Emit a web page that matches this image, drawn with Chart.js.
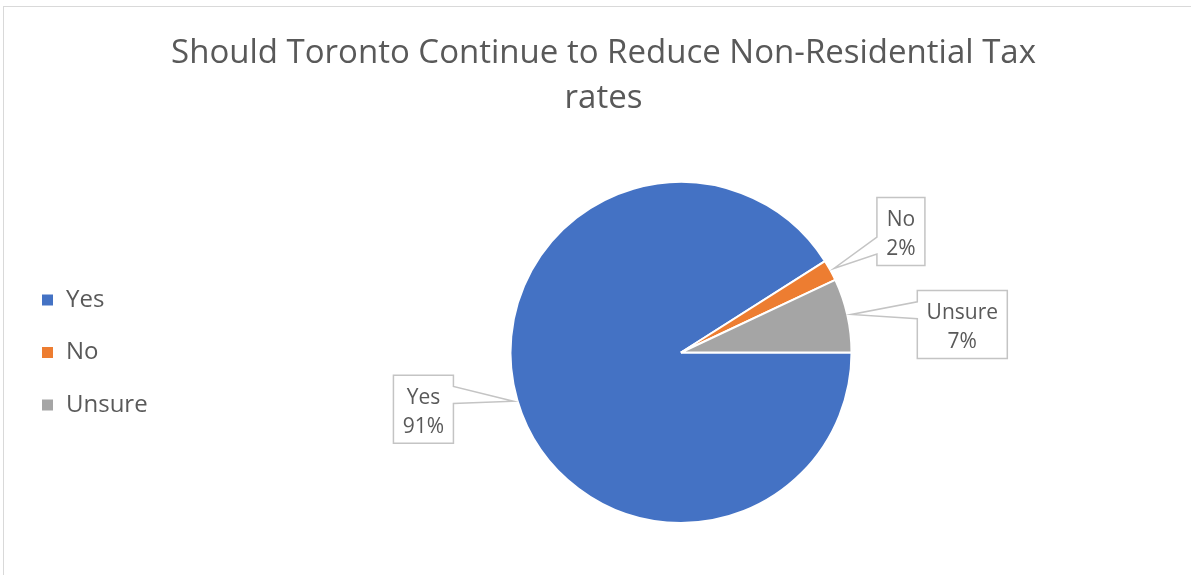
<!DOCTYPE html>
<html>
<head>
<meta charset="utf-8">
<title>Should Toronto Continue to Reduce Non-Residential Tax rates</title>
<script src="https://cdn.jsdelivr.net/npm/chart.js@4.4.1/dist/chart.umd.min.js"></script>
<style>
  html, body { margin: 0; padding: 0; background: #fff; overflow: hidden; }
  #frame {
    position: absolute; left: 3px; top: 6px; width: 1300px; height: 700px;
    border: 1.5px solid #d9d9d9; box-sizing: border-box;
  }
  #chart { position: absolute; left: 0; top: 0; }
</style>
</head>
<body>
<div id="frame"></div>
<canvas id="chart" width="1191" height="575"></canvas>
<script>
const answers = ["Yes", "No", "Unsure"];
const shares = [91, 2, 7];
const sliceColors = ["#4472C4", "#ED7D31", "#A5A5A5"];
const titleLines = ["Should Toronto Continue to Reduce Non-Residential Tax", "rates"];

// where each callout box sits, relative to the point on the slice edge
const calloutShift = [[-90, 8], [67, -37], [111, 10]];

// horizontal centre of the pie on the canvas
const pieCenterX = 681;

const textColor = "#595959";
const fontFamily = "'Open Sans', sans-serif";

// the legend sits far left, so trim the plot area to put the pie where we want it
const placePie = {
  id: "placePie",
  afterLayout(chart) {
    const area = chart.chartArea;
    area.left = 2 * pieCenterX - area.right;
    area.width = area.right - area.left;
  }
};

// callout boxes with a wedge pointing at the middle of each slice
const calloutLabels = {
  id: "calloutLabels",
  afterDatasetsDraw(chart) {
    const ctx = chart.ctx;
    const arcs = chart.getDatasetMeta(0).data;
    ctx.save();
    ctx.font = "21px " + fontFamily;
    arcs.forEach((arc, i) => {
      const mid = (arc.startAngle + arc.endAngle) / 2;
      const ax = arc.x + Math.cos(mid) * (arc.outerRadius + 4);
      const ay = arc.y + Math.sin(mid) * (arc.outerRadius + 4);
      const lines = [answers[i], shares[i] + "%"];
      const tw = Math.max(...lines.map(l => ctx.measureText(l).width));
      const w = Math.round(tw + 19);
      const h = 68;
      const cx = ax + calloutShift[i][0];
      const cy = ay + calloutShift[i][1];
      const left = cx - w / 2, top = cy - h / 2, right = left + w, bottom = top + h;

      // wedge base sits on the upper or lower part of the facing side
      const y1 = ay < cy ? top + h / 6 : top + h * 7 / 12;
      const y2 = ay < cy ? top + h * 5 / 12 : top + h * 5 / 6;

      ctx.beginPath();
      ctx.moveTo(left, top);
      ctx.lineTo(right, top);
      if (ax > right) {
        ctx.lineTo(right, y1);
        ctx.lineTo(ax, ay);
        ctx.lineTo(right, y2);
      }
      ctx.lineTo(right, bottom);
      ctx.lineTo(left, bottom);
      if (ax < left) {
        ctx.lineTo(left, y2);
        ctx.lineTo(ax, ay);
        ctx.lineTo(left, y1);
      }
      ctx.closePath();
      ctx.fillStyle = "#ffffff";
      ctx.fill();
      ctx.lineWidth = 1.5;
      ctx.strokeStyle = "#c4c4c4";
      ctx.stroke();

      ctx.fillStyle = textColor;
      ctx.textAlign = "center";
      ctx.textBaseline = "alphabetic";
      ctx.fillText(lines[0], cx, top + 29);
      ctx.fillText(lines[1], cx, top + 58);
    });
    ctx.restore();
  }
};

const data = {
  labels: answers,
  datasets: [{
    data: shares,
    backgroundColor: sliceColors,
    borderColor: "#ffffff",
    borderWidth: 2
  }]
};

const config = {
  type: "pie",
  data: data,
  options: {
    responsive: false,
    devicePixelRatio: 1,
    animation: false,
    rotation: 90,
    layout: {
      padding: { left: 12.5, right: -3.5, top: 0, bottom: 51 }
    },
    plugins: {
      title: {
        display: true,
        text: titleLines,
        color: textColor,
        font: { family: fontFamily, size: 33, weight: "normal", lineHeight: 45 / 33 },
        padding: { top: 31, bottom: 60 }
      },
      legend: {
        position: "left",
        fullSize: false,
        labels: {
          color: textColor,
          font: { family: fontFamily, size: 24 },
          boxWidth: 13,
          boxHeight: 13,
          padding: 28.5
        }
      },
      tooltip: { enabled: false }
    }
  },
  plugins: [placePie, calloutLabels]
};

const myChart = new Chart(document.getElementById("chart"), config);
</script>
</body>
</html>
